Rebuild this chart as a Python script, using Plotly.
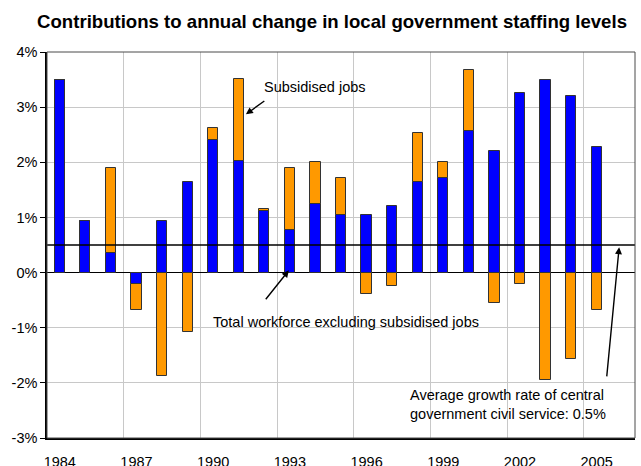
import plotly.graph_objects as go

# Contributions to annual % change in local government staffing levels
years = list(range(1984, 2006))
workforce_ex_subsidised = [3.49, 0.94, 0.36, -0.21, 0.93, 1.65, 2.40, 2.03, 1.12, 0.78, 1.24,
                           1.05, 1.05, 1.21, 1.64, 1.72, 2.56, 2.21, 3.26, 3.49, 3.21, 2.27]
subsidised_jobs = [0.0, 0.0, 1.53, -0.46, -1.87, -1.07, 0.23, 1.48, 0.03, 1.11, 0.77,
                   0.66, -0.39, -0.24, 0.89, 0.29, 1.12, -0.55, -0.21, -1.95, -1.57, -0.68]
civil_service_avg_growth = 0.5

y_ticks = [-3, -2, -1, 0, 1, 2, 3, 4]
x_label_years = years[::3]
# vertical gridlines fall between category groups of three
x_grid_positions = [y + 0.5 for y in years[2::3]]

FONT = "Liberation Sans, Arial, sans-serif"
BLUE = "#0000FF"
ORANGE = "#FF9900"
OUTLINE = "#333333"

fig = go.Figure()
fig.add_trace(go.Bar(
    x=years, y=workforce_ex_subsidised, name="Total workforce excluding subsidised jobs",
    marker=dict(color=BLUE, line=dict(color=OUTLINE, width=1)), width=0.4,
))
fig.add_trace(go.Bar(
    x=years, y=subsidised_jobs, name="Subsidised jobs",
    marker=dict(color=ORANGE, line=dict(color=OUTLINE, width=1)), width=0.4,
))

# reference line: average growth of central government civil service
fig.add_shape(type="line", xref="paper", x0=0, x1=1, yref="y",
              y0=civil_service_avg_growth, y1=civil_service_avg_growth,
              line=dict(color="black", width=1.5), layer="above")
# plot-area frame
fig.add_shape(type="rect", xref="paper", yref="paper", x0=0, x1=1, y0=0, y1=1,
              line=dict(color="#4a4a4a", width=1), layer="above")

ann_font = dict(family=FONT, size=14.5, color="black")
arrow = dict(showarrow=True, arrowhead=2, arrowsize=1, arrowwidth=1.4, arrowcolor="black",
             axref="x", ayref="y", text="")
fig.add_annotation(x=1991.28, y=2.87, ax=1992.06, ay=3.13, **arrow)
fig.add_annotation(x=1992.96, y=0.04, ax=1992.01, ay=-0.51, **arrow)
fig.add_annotation(x=2005.88, y=0.46, ax=2005.39, ay=-1.91, **arrow)
fig.add_annotation(x=1991.9, y=3.36, text="Subsidised jobs", showarrow=False,
                   xanchor="left", yanchor="middle", font=ann_font)
fig.add_annotation(x=1989.9, y=-0.90, text="Total workforce excluding subsidised jobs",
                   showarrow=False, xanchor="left", yanchor="middle", font=ann_font)
fig.add_annotation(x=1997.63, y=-2.40,
                   text="Average growth rate of central<br>government civil service: 0.5%",
                   showarrow=False, xanchor="left", yanchor="middle", align="left", font=ann_font)

fig.update_layout(
    width=641, height=466,
    margin=dict(l=47, r=6, t=52, b=28),
    paper_bgcolor="white", plot_bgcolor="white",
    barmode="relative", bargap=0, showlegend=False,
    font=dict(family=FONT, size=14, color="black"),
    title=dict(text="<b>Contributions to annual change in local government staffing levels</b>",
               x=0.518, xanchor="center", y=0.954, yanchor="middle",
               font=dict(family=FONT, size=18.6, color="black")),
)
fig.update_xaxes(
    range=[years[0] - 0.5, years[-1] + 1.5], automargin=False,
    tickmode="array", tickvals=x_label_years, ticktext=[str(y) for y in x_label_years],
    showgrid=False, ticks="", ticklabelstandoff=10,
    showline=True, linecolor="black", linewidth=1.5,
    minor=dict(tickmode="array", tickvals=x_grid_positions, showgrid=True,
               gridcolor="#c8c8c8", gridwidth=1, ticks=""),
    tickfont=dict(size=14.5),
)
fig.update_yaxes(
    range=[y_ticks[0], y_ticks[-1]], automargin=False,
    tickmode="array", tickvals=y_ticks, ticktext=[f"{v}%" for v in y_ticks],
    showgrid=True, gridcolor="#c8c8c8", gridwidth=1,
    zeroline=True, zerolinecolor="black", zerolinewidth=1.2,
    showline=True, linecolor="black", linewidth=1.5,
    ticks="outside", ticklen=5, tickcolor="black", tickwidth=1,
    tickfont=dict(size=14.5),
)

fig.write_html("out.html")
